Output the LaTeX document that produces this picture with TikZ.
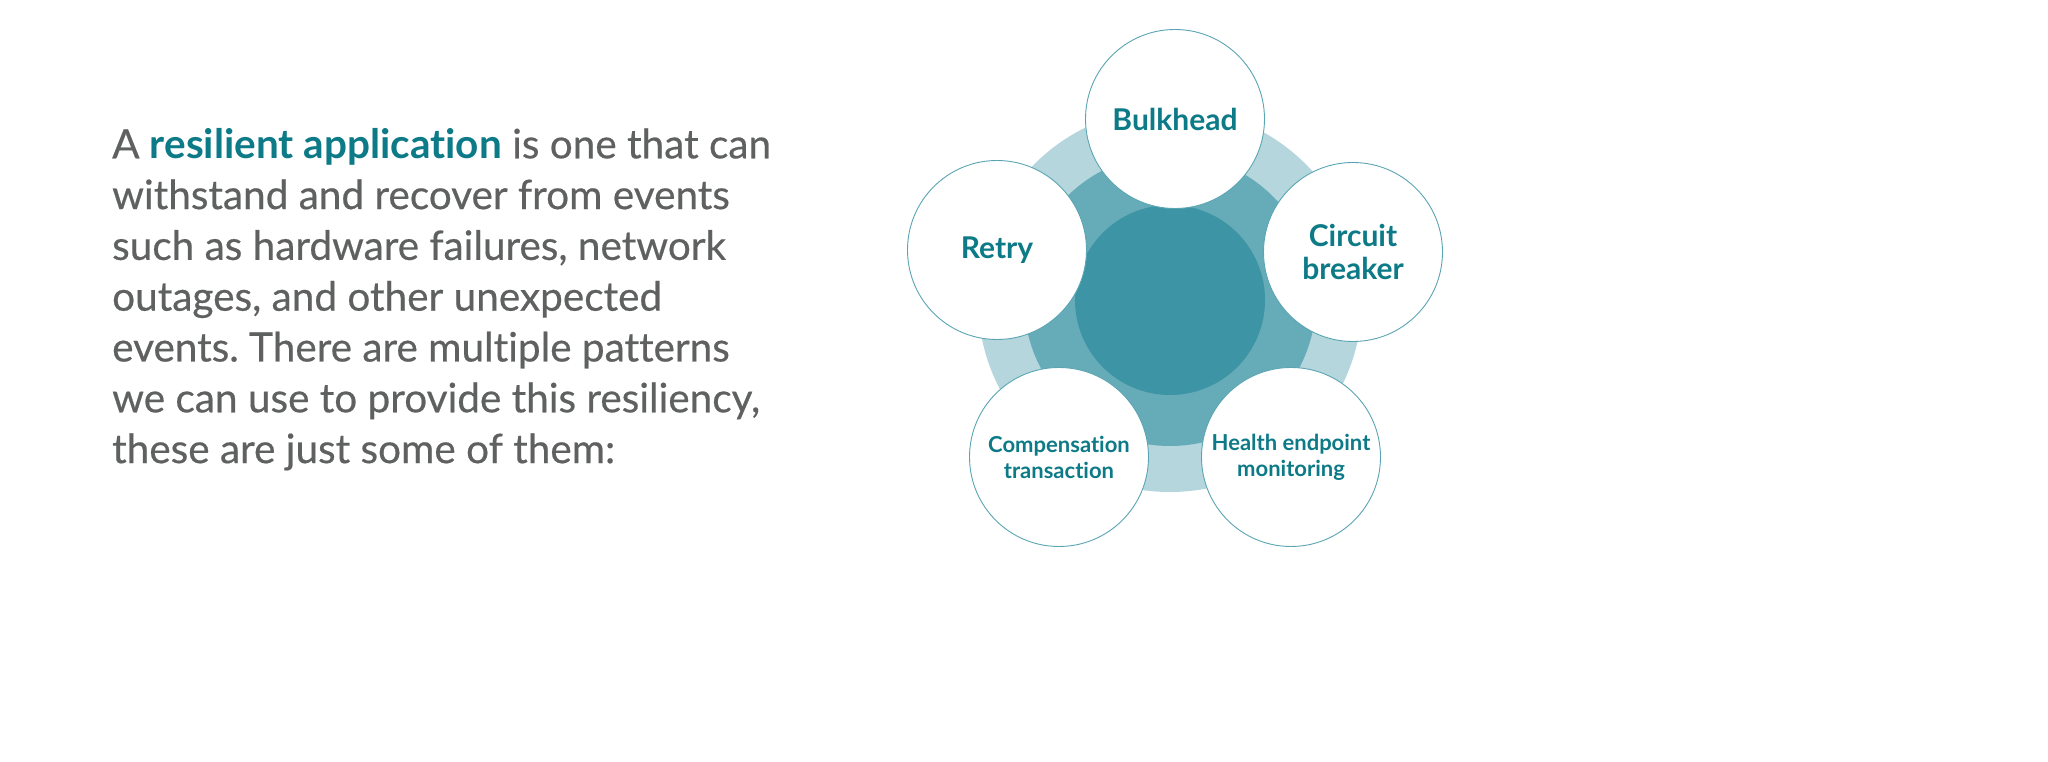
\documentclass[tikz,border=0pt]{standalone}
\usepackage{fontspec}
\setmainfont{Lato}[Ligatures=NoCommon]
\newfontfamily\bodyfont{Lato}[FakeBold=0.45,Ligatures=NoCommon]
\definecolor{ringlight}{HTML}{B4D6DC}
\definecolor{ringmid}{HTML}{66ABB8}
\definecolor{ringdark}{HTML}{3D94A4}
\definecolor{tealtext}{HTML}{0D7A87}
\definecolor{rimline}{HTML}{5AA5B3}
\definecolor{bodygray}{HTML}{5F6060}
\frenchspacing
\begin{document}
\begin{tikzpicture}[x=1pt,y=1pt,
    ball/.style={circle, draw=rimline, line width=0.9pt, fill=white,
      minimum size=179pt, inner sep=0pt, align=center, text=tealtext,
      font=\bfseries\fontsize{30}{33}\selectfont},
    smallball/.style={ball, font=\bfseries\fontsize{22}{26}\selectfont}]
  \useasboundingbox[fill=white] (0,0) rectangle (2048,761);
  % text on the left
  \node[anchor=north west, inner sep=0pt, align=left, text=bodygray,
        font=\bodyfont\fontsize{40.5}{50.8}\selectfont] (intro) at (112,633)
    {A \textcolor{tealtext}{\normalfont\bfseries resilient application} is one that can\\
     withstand and recover from events\\
     such as hardware failures, network\\
     outages, and other unexpected\\
     events. There are multiple patterns\\
     we can use to provide this resiliency,\\
     these are just some of them:};
  % rings
  \coordinate (core) at (1170,461);
  \fill[ringlight] (core) circle (192);
  \fill[ringmid] (core) circle (146);
  \fill[ringdark] (core) circle (95);
  % patterns
  \path (1175,642) node[ball] (bulkhead) {Bulkhead}
        (997,511)  node[ball] (retry) {Retry}
        (1353,509) node[ball] (breaker) {Circuit\\breaker}
        (1059,304) node[smallball] (compensation) {Compensation\\transaction}
        (1291,304) node[smallball] (health) {Health endpoint\\monitoring};
\end{tikzpicture}
\end{document}
